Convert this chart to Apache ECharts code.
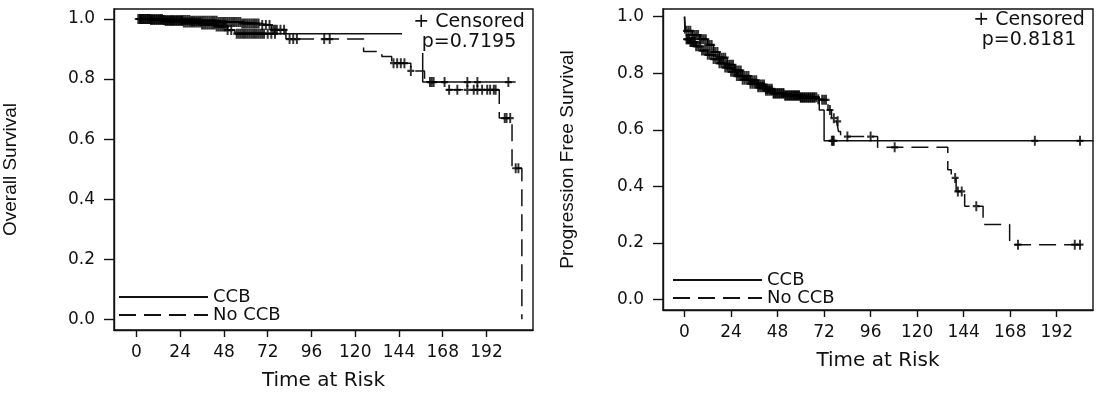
<!DOCTYPE html>
<html><head><meta charset="utf-8">
<script src="https://cdn.jsdelivr.net/npm/echarts@6/dist/echarts.min.js"></script>
<style>html,body{margin:0;padding:0;background:#fff}#c{width:1097px;height:401px}</style>
</head><body><div id="c"></div>
<script>
// ---- tick labels ----
const xTicks = [0, 24, 48, 72, 96, 120, 144, 168, 192];
const yTicks = [0, 0.2, 0.4, 0.6, 0.8, 1.0];
const groups = ['CCB', 'No CCB'];

// ---- Overall Survival (left panel): KM step times / survival, censor times ----
const osCcbTimes = [0, 8, 16, 26, 36, 44, 50, 54, 157, 208];
const osCcbSurv  = [1.0, 0.997, 0.993, 0.988, 0.982, 0.975, 0.963, 0.951, 0.79, 0.79];
const osCcbCensor = [2,3,4,5,6,7,8,9,10,11,12,13,14,15,16,17,18,19,20,21,22,23,24,25,26,27,28,29,30,31,32,33,34,35,36,37,38,39,40,41,42,43,44,45,46,47,48,49,50,52,55,56,57,58,59,60,61,62,63,64,65,66,67,68,69,70,72,74,76,161,162,163,169,181.5,187,204];
const osNoTimes = [0, 15, 30, 45, 58, 68, 74, 82, 124.6, 134.6, 140, 150.5, 158, 169, 199, 206, 211.4];
const osNoSurv  = [1.0, 0.997, 0.994, 0.99, 0.985, 0.98, 0.964, 0.933, 0.892, 0.875, 0.853, 0.827, 0.79, 0.764, 0.67, 0.503, 0.0];
const osNoCensor = [1,2,3,4,5,6,7,8,9,10,11,12,13,14,15,16,17,18,19,20,21,22,23,24,25,26,27,28,29,30,31,32,33,34,35,36,37,38,39,40,41,42,43,44,45,46,47,48,49,50,51,52,53,54,55,56,57,58,59,60,61,62,63,64,65,66,67,69,71,73,75,76,77,79,81,84,86,88,103,106,141,143,145,147,150.5,171.5,176,181.5,185,187,189.6,192.4,194,196,197,202,203,205,208,209.5];
const osPValue = 'p=0.7195';

// ---- Progression Free Survival (right panel) ----
const pfsCcbTimes = [0, 0.5, 4, 8, 12, 15, 18, 22, 26, 30, 34, 38, 42, 46, 52, 60, 69.5, 72, 211];
const pfsCcbSurv  = [1.0, 0.95, 0.935, 0.92, 0.9, 0.875, 0.855, 0.83, 0.81, 0.79, 0.775, 0.76, 0.745, 0.73, 0.722, 0.715, 0.67, 0.561, 0.561];
const pfsCcbCensor = [1,2,3,4,5,6,7,8,9,10,11,12,13,14,15,16,17,18,19,20,21,22,23,24,25,26,27,28,29,30,31,32,33,34,35,36,37,38,39,40,41,42,43,44,45,46,47,48,49,50,51,52,53,54,55,56,57,58,59,60,61,62,63,64,65,66,67,68,76,76.5,77,180.7,204];
const pfsNoTimes = [0, 0.3, 3, 6, 9, 12, 15, 18, 21, 24, 27, 30, 34, 38, 42, 46, 52, 60, 68, 70, 74, 75.8, 78.5, 79.4, 80.5, 99.6, 135.8, 137.6, 140.1, 144.5, 154, 167.7, 208.3];
const pfsNoSurv  = [1.0, 0.92, 0.91, 0.895, 0.88, 0.865, 0.85, 0.835, 0.82, 0.805, 0.79, 0.777, 0.763, 0.75, 0.738, 0.727, 0.72, 0.713, 0.708, 0.706, 0.67, 0.641, 0.63, 0.594, 0.576, 0.538, 0.459, 0.43, 0.382, 0.33, 0.265, 0.194, 0.194];
const pfsNoCensor = [1,1.5,2,2.5,3,3.5,4,4.5,5,5.5,6,7,8,9,10,11,12,13,14,15,16,17,18,19,20,21,22,23,24,25,26,27,28,29,30,31,32,33,34,35,36,37,38,39,40,41,42,43,44,45,46,47,48,49,50,51,52,53,54,55,56,57,58,59,60,61,62,63,64,65,66,67,69,71,72,73,75,77,79,84,96,108.4,139.6,141,143,150.5,172,201.3,204];
const pfsPValue = 'p=0.8181';

// ---- helpers ----
function pairs(ts, ss) { return ts.map((t, i) => [t, ss[i]]); }
function survAt(ts, ss, t) { let v = ss[0]; for (let i = 0; i < ts.length; i++) { if (ts[i] <= t) v = ss[i]; } return v; }
function censorPts(cs, ts, ss) { return cs.map(t => [t, survAt(ts, ss, t)]); }

const FONT = '"DejaVu Sans", "Liberation Sans", Arial, sans-serif';
const INK = '#111';
const PLUS = 'path://M3.6,0h2.8v10h-2.8z M0,3.9h10v2.2h-10z';
const DASH = [17, 8];

function xAxisFor(gi, min, max) {
  return {
    gridIndex: gi, type: 'value', min: min, max: max,
    name: 'Time at Risk', nameLocation: 'middle', nameGap: 41,
    nameTextStyle: { fontFamily: FONT, fontSize: 20, color: INK },
    axisLine: { show: true, onZero: false, lineStyle: { color: INK, width: 1.4 } },
    axisTick: { show: true, customValues: xTicks, length: 7, lineStyle: { color: INK, width: 1.4 } },
    axisLabel: { customValues: xTicks, margin: 14, fontFamily: FONT, fontSize: 17, color: INK },
    splitLine: { show: false }
  };
}
function yAxisFor(gi, min, max, name, gap) {
  return {
    gridIndex: gi, type: 'value', min: min, max: max,
    name: name, nameLocation: 'middle', nameGap: gap,
    nameTextStyle: { fontFamily: '"Liberation Sans", Arial, sans-serif', fontSize: 19, color: INK },
    axisLine: { show: true, onZero: false, lineStyle: { color: INK, width: 1.4 } },
    axisTick: { show: true, customValues: yTicks, length: 10, lineStyle: { color: INK, width: 1.4 } },
    axisLabel: { customValues: yTicks, margin: 19, fontFamily: FONT, fontSize: 17, color: INK, formatter: v => v.toFixed(1) },
    splitLine: { show: false }
  };
}
function kmLine(name, idx, data, dashed) {
  return {
    name: name, type: 'line', step: 'end', xAxisIndex: idx, yAxisIndex: idx,
    data: data, symbol: 'none', z: 3, silent: true,
    lineStyle: { color: INK, width: 1.5, type: dashed ? DASH : 'solid' },
    itemStyle: { color: INK }
  };
}
function censorSeries(name, idx, data) {
  return {
    name: name, type: 'scatter', xAxisIndex: idx, yAxisIndex: idx, data: data,
    symbol: PLUS, symbolSize: [7, 10], z: 4, silent: true,
    itemStyle: { color: '#000' }
  };
}
function legendFor(left, top) {
  return {
    left: left, top: top, orient: 'vertical', padding: 0, itemGap: 0,
    itemWidth: 89, itemHeight: 18, selectedMode: false,
    data: groups,
    itemStyle: { opacity: 0 },
    textStyle: { fontFamily: FONT, fontSize: 18, color: INK }
  };
}

const chart = echarts.init(document.getElementById('c'), null, { renderer: 'canvas' });
chart.setOption({
  backgroundColor: '#fff',
  animation: false,
  grid: [
    { left: 109, top: 9, width: 424, height: 321, show: true, borderColor: INK, borderWidth: 1.4, backgroundColor: 'transparent' },
    { left: 663, top: 9, width: 430, height: 301, show: true, borderColor: INK, borderWidth: 1.4, backgroundColor: 'transparent' }
  ],
  xAxis: [xAxisFor(0, -12.3, 217.5), xAxisFor(1, -11.1, 210.7)],
  yAxis: [yAxisFor(0, -0.0357, 1.0333, 'Overall Survival', 94), yAxisFor(1, -0.037, 1.027, 'Progression Free Survival', 86)],
  legend: [legendFor(118, 288), legendFor(672, 271)],
  series: [
    kmLine(groups[0], 0, pairs(osCcbTimes, osCcbSurv), false),
    kmLine(groups[1], 0, pairs(osNoTimes, osNoSurv), true),
    censorSeries('CCB censored OS', 0, censorPts(osCcbCensor, osCcbTimes, osCcbSurv)),
    censorSeries('No CCB censored OS', 0, censorPts(osNoCensor, osNoTimes, osNoSurv)),
    kmLine(groups[0], 1, pairs(pfsCcbTimes, pfsCcbSurv), false),
    kmLine(groups[1], 1, pairs(pfsNoTimes, pfsNoSurv), true),
    censorSeries('CCB censored PFS', 1, censorPts(pfsCcbCensor, pfsCcbTimes, pfsCcbSurv)),
    censorSeries('No CCB censored PFS', 1, censorPts(pfsNoCensor, pfsNoTimes, pfsNoSurv))
  ],
  graphic: [
    { type: 'rect', z: 50, shape: { x: 402, y: 10, width: 130, height: 43 }, style: { fill: '#fff' } },
    { type: 'text', z: 51, style: { text: '+ Censored\n' + osPValue, x: 469, y: 12, textAlign: 'center', textVerticalAlign: 'top', font: '19px ' + FONT, lineHeight: 20, fill: INK } },
    { type: 'text', z: 51, style: { text: '+ Censored\n' + pfsPValue, x: 1029, y: 10, textAlign: 'center', textVerticalAlign: 'top', font: '19px ' + FONT, lineHeight: 20, fill: INK } }
  ]
});
</script>
</body></html>
